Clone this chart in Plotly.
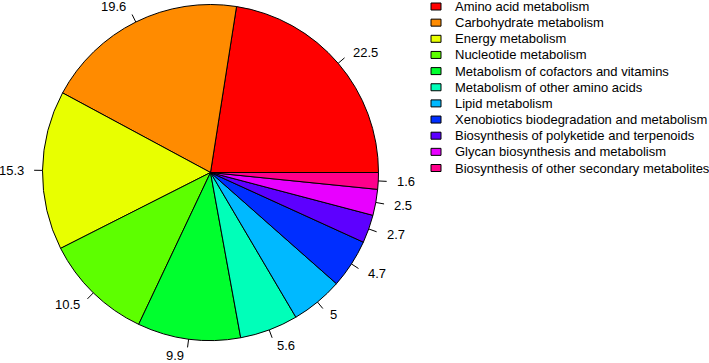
import math
import plotly.graph_objects as go

categories = [
    "Amino acid metabolism",
    "Carbohydrate metabolism",
    "Energy metabolism",
    "Nucleotide metabolism",
    "Metabolism of cofactors and vitamins",
    "Metabolism of other amino acids",
    "Lipid metabolism",
    "Xenobiotics biodegradation and metabolism",
    "Biosynthesis of polyketide and terpenoids",
    "Glycan biosynthesis and metabolism",
    "Biosynthesis of other secondary metabolites",
]
values = [22.5, 19.6, 15.3, 10.5, 9.9, 5.6, 5, 4.7, 2.7, 2.5, 1.6]
value_labels = ["22.5", "19.6", "15.3", "10.5", "9.9", "5.6", "5", "4.7", "2.7", "2.5", "1.6"]
colors = ["#FF0000", "#FF8B00", "#E8FF00", "#5DFF00", "#00FF2E", "#00FFB9",
          "#00B9FF", "#002EFF", "#5D00FF", "#E800FF", "#FF008B"]

W, H = 709, 363
CX, CY, R = 210.5, 172.5, 168.0
FONT = "Liberation Sans, Arial, sans-serif"
total = sum(values)

fig = go.Figure(go.Pie(
    labels=categories, values=values, sort=False,
    direction="counterclockwise",
    # in counterclockwise mode plotly offsets the start by the first slice
    rotation=90 - 360 * values[0] / total,
    marker=dict(colors=colors, line=dict(color="black", width=1)),
    textinfo="none", hoverinfo="label+value",
    domain=dict(x=[(CX - R) / W, (CX + R) / W],
                y=[1 - (CY + R) / H, 1 - (CY - R) / H]),
    showlegend=False,
))

def px2paper(x, y):
    return x / W, 1 - y / H

shapes = []
annotations = []
cum = 0.0
for v, lab in zip(values, value_labels):
    th = 2 * math.pi * (cum + v / 2) / total
    cum += v
    c, s = math.cos(th), math.sin(th)
    x0, y0 = px2paper(CX + R * c, CY - R * s)
    x1, y1 = px2paper(CX + 1.05 * R * c, CY - 1.05 * R * s)
    shapes.append(dict(type="line", xref="paper", yref="paper",
                       x0=x0, y0=y0, x1=x1, y1=y1,
                       line=dict(color="black", width=1)))
    tx, ty = px2paper(CX + 1.1 * R * c, CY - 1.1 * R * s)
    annotations.append(dict(xref="paper", yref="paper", x=tx, y=ty,
                            text=lab, showarrow=False,
                            xanchor="left" if c >= 0 else "right",
                            yanchor="middle",
                            font=dict(family=FONT, size=13, color="black")))

# manual legend
LX_BOX, LX_TEXT, LY0, LDY = 431, 453, 6.5, 16.15
for i, (cat, col) in enumerate(zip(categories, colors)):
    yc = LY0 + LDY * i
    bx0, by0 = px2paper(LX_BOX, yc - 3.5)
    bx1, by1 = px2paper(LX_BOX + 10, yc + 3.5)
    shapes.append(dict(type="rect", xref="paper", yref="paper",
                       x0=bx0, y0=by1, x1=bx1, y1=by0,
                       fillcolor=col, line=dict(color="black", width=1)))
    tx, ty = px2paper(LX_TEXT, yc)
    annotations.append(dict(xref="paper", yref="paper", x=tx, y=ty,
                            text=cat, showarrow=False,
                            xanchor="left", yanchor="middle",
                            font=dict(family=FONT, size=13, color="black")))

fig.update_layout(
    width=W, height=H,
    margin=dict(l=0, r=0, t=0, b=0),
    paper_bgcolor="white", plot_bgcolor="white",
    shapes=shapes, annotations=annotations,
)
fig.write_html("out.html",
               config={"displayModeBar": False},
               post_script="document.body.style.margin='0';document.body.style.overflow='hidden';")
